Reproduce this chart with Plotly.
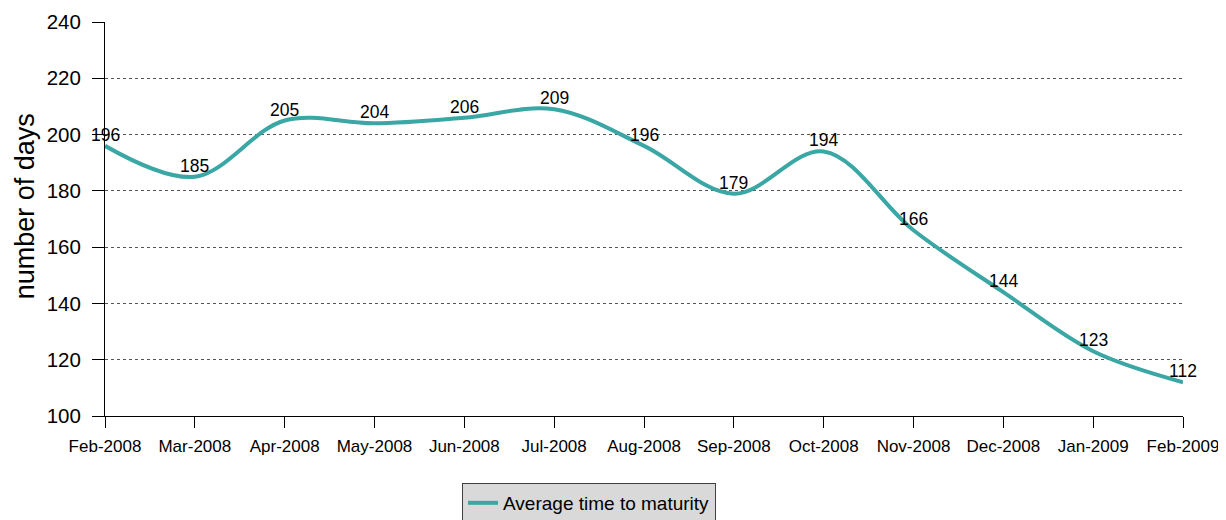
import plotly.graph_objects as go

months = ["Feb-2008", "Mar-2008", "Apr-2008", "May-2008", "Jun-2008", "Jul-2008",
          "Aug-2008", "Sep-2008", "Oct-2008", "Nov-2008", "Dec-2008", "Jan-2009", "Feb-2009"]
days = [196, 185, 205, 204, 206, 209, 196, 179, 194, 166, 144, 123, 112]
y_ticks = [100, 120, 140, 160, 180, 200, 220, 240]

xpos = list(range(len(months)))
teal = "#3AA7A5"
font_family = "Liberation Sans, Arial, sans-serif"

fig = go.Figure()
fig.add_trace(go.Scatter(
    x=xpos, y=days, mode="lines",
    line=dict(color=teal, width=4, shape="spline", smoothing=1.0),
    name="Average time to maturity",
))

for xv, yv in zip(xpos, days):
    fig.add_annotation(x=xv, y=yv, text=str(yv), showarrow=False,
                       yshift=11, font=dict(size=17.5, color="#000000"))

fig.add_annotation(text="number of days", xref="paper", yref="paper",
                   x=-0.074, y=0.533, xanchor="center", yanchor="middle",
                   textangle=-90, showarrow=False,
                   font=dict(size=27, color="#000000"))

fig.update_layout(
    width=1218, height=512,
    margin=dict(l=97, r=43, t=14, b=104, autoexpand=False),
    paper_bgcolor="white", plot_bgcolor="white",
    font=dict(family=font_family, color="#000000"),
    showlegend=True,
    legend=dict(
        x=0.449, y=-0.17, xanchor="center", yanchor="top",
        orientation="h", bgcolor="#D9D9D9", bordercolor="#404040", borderwidth=1,
        font=dict(size=19, color="#000000"),
        itemwidth=30,
    ),
    xaxis=dict(
        range=[0, 12], tickmode="array", tickvals=xpos, ticktext=months,
        showgrid=False, zeroline=False, showline=True, linecolor="#000000", linewidth=1,
        ticks="outside", ticklen=11, tickcolor="#000000", ticklabelstandoff=4,
        ticklabeloverflow="allow",
        tickfont=dict(size=17), automargin=False,
    ),
    yaxis=dict(
        range=[100, 240], tickmode="array", tickvals=y_ticks,
        showgrid=True, gridcolor="#555555", griddash="dot", gridwidth=1,
        zeroline=False, showline=True, linecolor="#000000", linewidth=1,
        ticks="outside", ticklen=12, tickcolor="#000000", ticklabelstandoff=7,
        tickfont=dict(size=20.5), automargin=False,
    ),
)

fig.write_html("out.html")
